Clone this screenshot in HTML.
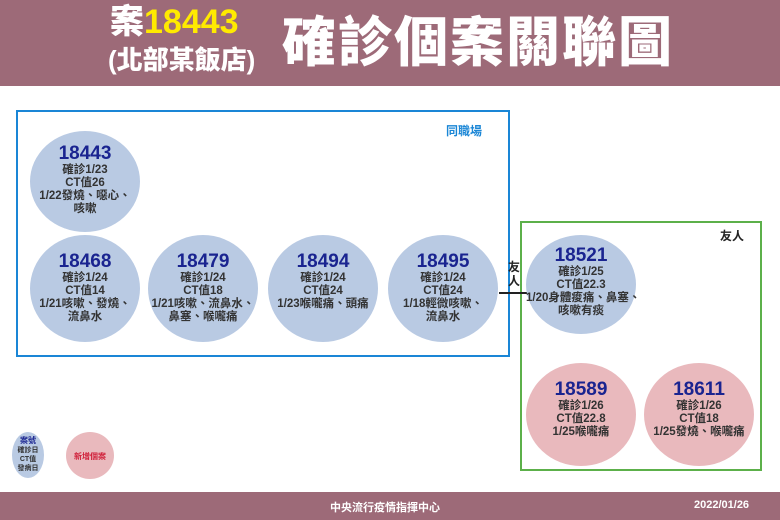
<!DOCTYPE html>
<html><head><meta charset="utf-8"><style>
*{margin:0;padding:0;box-sizing:border-box}
body{width:780px;height:520px;background:#fff;position:relative;overflow:hidden;font-family:"Liberation Sans","Noto Sans CJK TC",sans-serif}
.hdr{position:absolute;left:0;top:0;width:780px;height:86px;background:#9d6a78}
.ftr{position:absolute;left:0;top:492px;width:780px;height:28px;background:#9d6a78;color:#fff;font-weight:bold;font-size:11px}
.c{position:absolute;border-radius:50%;background:#b9cae3;text-align:center;color:#333;font-size:11.5px;line-height:13px;font-weight:bold}
.c.p{background:#e9b9bd}
.c b{display:block;color:#1a2490;font-size:19px;line-height:20px}
.box{position:absolute}
</style></head><body>
<div class="hdr">
 <div style="position:absolute;left:110px;top:3px;color:#fff;font-weight:900;font-size:34px;line-height:38px">案<span style="color:#ffea00">18443</span></div>
 <div style="position:absolute;left:108px;top:44px;color:#fff;font-weight:900;font-size:26px;line-height:32px">(北部某飯店)</div>
 <div style="position:absolute;left:282px;top:12px;color:#fff;font-weight:900;font-size:54px;line-height:62px;letter-spacing:2px">確診個案關聯圖</div>
</div>
<div class="box" style="left:16px;top:110px;width:494px;height:247px;border:2px solid #1a86d6"></div>
<div style="position:absolute;left:446px;top:122px;color:#1a86d6;font-weight:bold;font-size:12px">同職場</div>
<div class="box" style="left:520px;top:221px;width:242px;height:250px;border:2px solid #5cb04a"></div>
<div style="position:absolute;left:720px;top:227px;color:#222;font-weight:bold;font-size:12px">友人</div>
<div style="position:absolute;left:499px;top:292px;width:28px;height:2px;background:#222"></div>
<div style="position:absolute;left:508px;top:260px;width:14px;color:#222;font-weight:bold;font-size:12px;line-height:14px">友人</div>

<div class="c" style="left:30px;top:131px;width:110px;height:101px;padding-top:13px"><b>18443</b>確診1/23<br>CT值26<br>1/22發燒、噁心、<br>咳嗽</div>
<div class="c" style="left:30px;top:235px;width:110px;height:107px;padding-top:17px"><b>18468</b>確診1/24<br>CT值14<br>1/21咳嗽、發燒、<br>流鼻水</div>
<div class="c" style="left:148px;top:235px;width:110px;height:107px;padding-top:17px;white-space:nowrap"><b>18479</b>確診1/24<br>CT值18<br>1/21咳嗽、流鼻水、<br>鼻塞、喉嚨痛</div>
<div class="c" style="left:268px;top:235px;width:110px;height:107px;padding-top:17px;white-space:nowrap"><b>18494</b>確診1/24<br>CT值24<br>1/23喉嚨痛、頭痛</div>
<div class="c" style="left:388px;top:235px;width:110px;height:107px;padding-top:17px"><b>18495</b>確診1/24<br>CT值24<br>1/18輕微咳嗽、<br>流鼻水</div>
<div class="c" style="left:526px;top:235px;width:110px;height:99px;padding-top:11px;white-space:nowrap"><b>18521</b>確診1/25<br>CT值22.3<br>1/20身體痠痛、鼻塞、<br>咳嗽有痰</div>
<div class="c p" style="left:526px;top:363px;width:110px;height:103px;padding-top:17px"><b>18589</b>確診1/26<br>CT值22.8<br>1/25喉嚨痛</div>
<div class="c p" style="left:644px;top:363px;width:110px;height:103px;padding-top:17px;white-space:nowrap"><b>18611</b>確診1/26<br>CT值18<br>1/25發燒、喉嚨痛</div>

<div class="c" style="left:12px;top:432px;width:32px;height:46px;padding-top:4px;font-size:7px;line-height:9px"><span style="color:#1a2490;font-size:8px">案號</span><br>確診日<br>CT值<br>發病日</div>
<div class="c p" style="left:66px;top:432px;width:48px;height:47px;padding-top:18px;font-size:8px;color:#d0203a">新增個案</div>

<div class="ftr"><span style="position:absolute;left:330px;top:7px">中央流行疫情指揮中心</span><span style="position:absolute;left:694px;top:7px">2022/01/26</span></div>
</body></html>
